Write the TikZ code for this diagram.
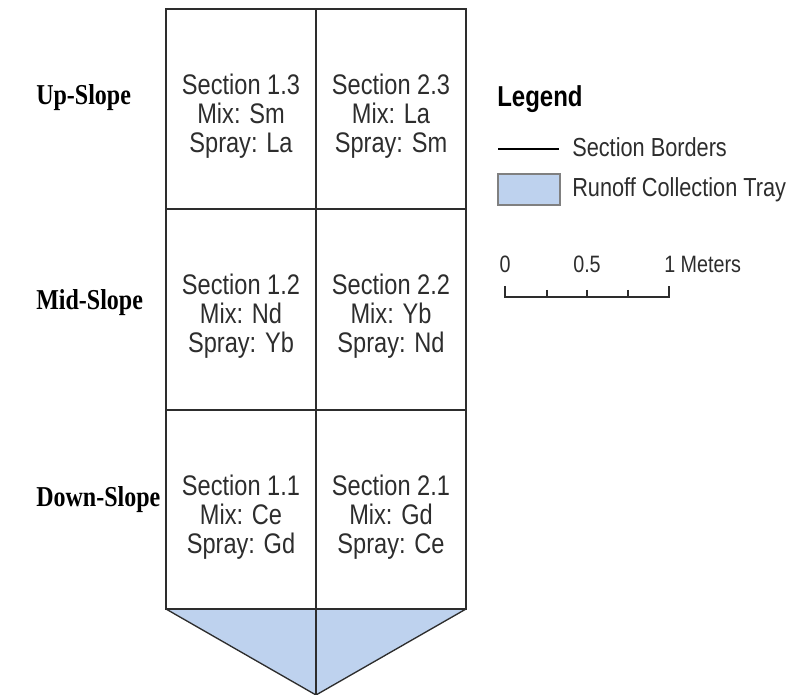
\documentclass[tikz,border=0pt]{standalone}
\usepackage{fontspec}
\setmainfont{Liberation Serif}
\setsansfont{Liberation Sans}
\definecolor{trayblue}{RGB}{190,210,238}
\definecolor{inkgray}{RGB}{45,45,45}

\begin{document}
\begin{tikzpicture}[x=0.75pt,y=-0.75pt,
  border/.style={draw=inkgray,line width=1pt},
  tall/.style={yscale=1.2,transform shape,inner sep=0pt},
  cell/.style={tall,anchor=north,align=center,text=inkgray,font=\sffamily\fontsize{17.7}{18.1}\selectfont},
  slope/.style={tall,anchor=base west,font=\bfseries\fontsize{18}{20}\selectfont},
  legtext/.style={tall,anchor=base west,text=inkgray,font=\sffamily\fontsize{16.3}{18}\selectfont},
  scaletext/.style={tall,anchor=base,text=inkgray,font=\sffamily\fontsize{14.8}{16}\selectfont}]
\useasboundingbox (0,0) rectangle (789,695);

\fill[trayblue] (166,609) -- (466,609) -- (316,695) -- cycle;
\draw[border] (166,9) rectangle (466,609);
\foreach \y in {209,410}
\draw[border] (166,\y) -- (466,\y);
\draw[border] (316,9) -- (316,695);
\draw[border] (166,609) -- (316,695) -- (466,609);

\node[cell] (s13) at (241,74) {Section 1.3\\Mix: Sm\\Spray: La};
\node[cell] (s23) at (391,74) {Section 2.3\\Mix: La\\Spray: Sm};
\node[cell] (s12) at (241,274) {Section 1.2\\Mix: Nd\\Spray: Yb};
\node[cell] (s22) at (391,274) {Section 2.2\\Mix: Yb\\Spray: Nd};
\node[cell] (s11) at (241,475) {Section 1.1\\Mix: Ce\\Spray: Gd};
\node[cell] (s21) at (391,475) {Section 2.1\\Mix: Gd\\Spray: Ce};

\node[slope] (up) at (36,105) {Up-Slope};
\node[slope] (mid) at (36,310) {Mid-Slope};
\node[slope] (down) at (36,506) {Down-Slope};

\node[tall,anchor=base west,font=\sffamily\bfseries\fontsize{18}{20}\selectfont] (legend) at (497,107) {Legend};
\draw[line width=1pt] (498,149) coordinate (bl) -- (559,149) coordinate (br);
\node[legtext] (borders) at (572,157) {Section Borders};
\filldraw[fill=trayblue,draw=gray,line width=0.8pt] (498,174) rectangle (560,205);
\node[legtext] (tray) at (572,197) {Runoff Collection Tray};

\node[scaletext] (zero) at (505,273) {0};
\node[scaletext] (half) at (587,273) {0.5};
\node[scaletext,anchor=base west] (one) at (664,273) {1 Meters};
\draw[inkgray,line width=0.9pt] (505,286) -- (505,297) -- (669,297) -- (669,286);
\foreach \x in {547,587,628}
\draw[inkgray,line width=0.9pt] (\x,290) -- (\x,297);
\end{tikzpicture}
\end{document}
